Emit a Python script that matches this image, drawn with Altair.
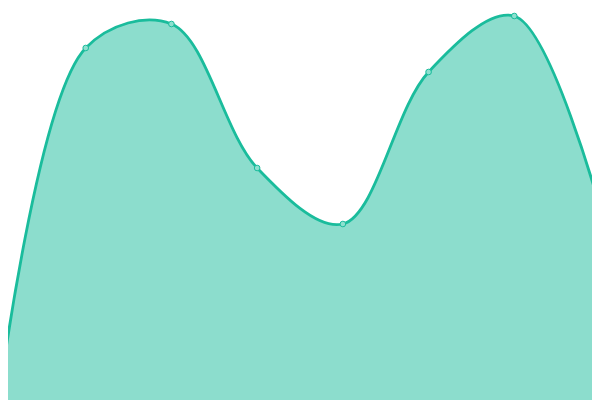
import altair as alt
import pandas as pd

idx = [0, 1, 2, 3, 4, 5, 6, 7]
values = [1, 44, 47, 29, 22, 41, 48, 24]

df = pd.DataFrame({"i": idx, "v": values})

step = 600 / 7
x = alt.X("i:Q", axis=None, scale=alt.Scale(domain=[8 / step, 592 / step], nice=False, zero=False))
y = alt.Y("v:Q", axis=None, scale=alt.Scale(domain=[0, 49], nice=False, zero=False))

base = alt.Chart(df).encode(x=x, y=y)

area = base.mark_area(
    interpolate="catmull-rom", color="#1abc9c", opacity=0.5, clip=True
)
line = base.mark_line(
    interpolate="catmull-rom", color="#1abc9c", strokeWidth=2.8, clip=True
)
pts = base.mark_point(
    shape="circle", size=32, filled=True, fill="#8de0cf", stroke="#1abc9c",
    strokeWidth=1, opacity=1, clip=True
)

chart = (
    alt.layer(area, line, pts)
    .properties(width=584, height=392, padding=0)
    .configure_view(stroke=None)
)

chart.save("out.html", embed_options={"renderer": "svg", "actions": False})
